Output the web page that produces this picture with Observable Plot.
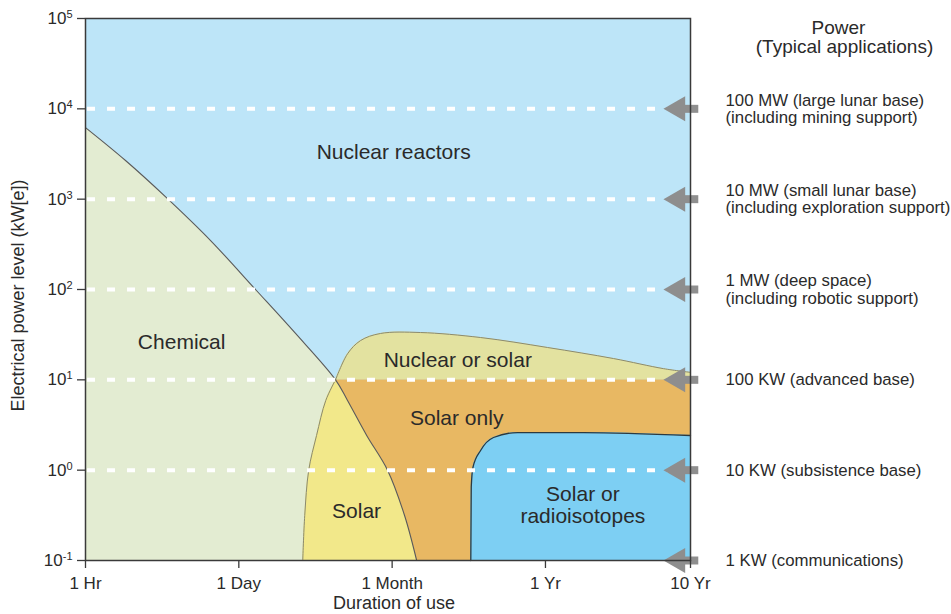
<!DOCTYPE html>
<html><head><meta charset="utf-8">
<script src="https://cdn.jsdelivr.net/npm/d3@7"></script>
<script src="https://cdn.jsdelivr.net/npm/@observablehq/plot@0.6"></script>
<style>body{margin:0;background:#fff;font-family:"Liberation Sans",Arial,sans-serif}</style>
</head><body><div id="chart"></div>
<script>
// Axis ticks (x is an evenly spaced duration index)
const durationTicks = [0, 1, 2, 3, 3.946];
const durationLabels = ["1 Hr", "1 Day", "1 Month", "1 Yr", "10 Yr"];
const powerTicks = [0.1, 1, 10, 100, 1000, 10000, 100000];
const gridLevels = [10000, 1000, 100, 10, 1];
const arrowLevels = [10000, 1000, 100, 10, 1, 0.1];
const appLabels = [
  "100 MW (large lunar base)\n(including mining support)",
  "10 MW (small lunar base)\n(including exploration support)",
  "1 MW (deep space)\n(including robotic support)",
  "100 KW (advanced base)",
  "10 KW (subsistence base)",
  "1 KW (communications)"
];

// Chemical / nuclear boundary (continues as solar / solar-only boundary)
const chemX = [0, 0.261, 0.528, 0.816, 1.109, 1.370, 1.631, 1.709, 1.834, 1.970, 2.081, 2.160];
const chemY = [6200, 2680, 1040, 348, 100, 32.6, 10, 5.9, 2.42, 1.0, 0.315, 0.1];

// Solar lens: left boundary at given power levels, right boundary = chemical curve
const solarY = [10, 5.9, 2.42, 1.0, 0.315, 0.1];
const solarLeftX = [1.631, 1.567, 1.507, 1.456, 1.430, 1.417];
const solarRightX = [1.631, 1.709, 1.834, 1.970, 2.081, 2.160];

// Nuclear-or-solar top boundary
const nosX = [1.631, 1.709, 1.794, 1.924, 2.185, 2.577, 3.014, 3.444, 3.770, 3.946];
const nosY = [10, 19.4, 27.2, 32.6, 33.4, 29.4, 22.8, 17.2, 13.3, 12.1];

// Solar-or-radioisotopes boundary
const radX = [2.513, 2.516, 2.527, 2.577, 2.661, 2.818, 3.249, 3.946];
const radY = [0.1, 0.65, 1.07, 1.65, 2.30, 2.61, 2.61, 2.42];

// Region labels
const regionNames = ["Nuclear reactors", "Chemical", "Nuclear or solar", "Solar only", "Solar", "Solar or\nradioisotopes"];
const regionX = [2.010, 0.627, 2.428, 2.421, 1.768, 3.244];
const regionY = [3370, 26.5, 16.4, 3.83, 0.357, 0.417];

const arrowTipX = 3.864, shaftX1 = 3.90, shaftX2 = 4.0;

const zip = (xs, ys) => xs.map((x, i) => ({x, y: ys[i]}));
const chem = zip(chemX, chemY);
const solar = solarY.map((y, i) => ({y, x1: solarLeftX[i], x2: solarRightX[i]}));
const nos = zip(nosX, nosY);
const rad = zip(radX, radY);
const regions = regionNames.map((t, i) => ({t, x: regionX[i], y: regionY[i]}));
const apps = arrowLevels.map((y, i) => ({y, t: appLabels[i]}));

const C = {
  nuclear: "#bde5f8", chem: "#e3ecd2", solar: "#f2e88a",
  nos: "#e3e2a0", solarOnly: "#e8b863", rad: "#7dcff3", arrow: "#8e8e8e", ink: "#2a2a2a"
};

const svg = Plot.plot({
  width: 951, height: 614,
  marginLeft: 85, marginRight: 261, marginTop: 18, marginBottom: 54,
  style: {fontFamily: '"Liberation Sans", Arial, sans-serif', background: "#fff", color: C.ink},
  x: {type: "linear", domain: [0, 3.946], axis: null},
  y: {type: "log", domain: [0.1, 100000], axis: null},
  marks: [
    Plot.frame({fill: C.nuclear, stroke: null}),
    Plot.areaY(nos, {x: "x", y1: 0.1, y2: 10, fill: C.solarOnly}),
    Plot.areaY(nos, {x: "x", y1: 10, y2: "y", fill: C.nos, curve: "catmull-rom"}),
    Plot.areaY(chem, {x: "x", y1: 0.1, y2: "y", fill: C.chem, curve: "catmull-rom"}),
    Plot.areaX(solar, {y: "y", x1: "x1", x2: "x2", fill: C.solar, curve: "catmull-rom"}),
    Plot.areaY(rad, {x: "x", y1: 0.1, y2: "y", fill: C.rad, curve: "monotone-x"}),
    Plot.line(chem, {x: "x", y: "y", stroke: "#5a5a5a", strokeWidth: 1.1, curve: "catmull-rom"}),
    Plot.line(solar, {x: "x1", y: "y", stroke: "#8a8a70", strokeWidth: 1, curve: "catmull-rom"}),
    Plot.line(nos, {x: "x", y: "y", stroke: "#8a8a70", strokeWidth: 1, curve: "catmull-rom"}),
    Plot.line(rad, {x: "x", y: "y", stroke: "#2c3a40", strokeWidth: 1.3, curve: "monotone-x"}),
    Plot.ruleY(gridLevels, {x1: 0, x2: 3.85, stroke: "#fff", strokeWidth: 4, strokeDasharray: "8 12", strokeDashoffset: -2}),
    Plot.text(regions, {x: "x", y: "y", text: "t", fontSize: 21, fill: C.ink, lineHeight: 1.05}),
    Plot.ruleY(arrowLevels, {x1: shaftX1, x2: shaftX2, stroke: C.arrow, strokeWidth: 8}),
    Plot.dot(arrowLevels, {x: arrowTipX, y: d => d, symbol: "triangle", r: 9.3, rotate: -90, fill: C.arrow, stroke: null}),
    Plot.frame({stroke: "#3a3a3a", strokeWidth: 1.5}),
    Plot.axisX({ticks: durationTicks, tickFormat: d => durationLabels[durationTicks.indexOf(d)], tickSize: 8, tickPadding: 8, fontSize: 17, label: null, stroke: "#3a3a3a", strokeWidth: 1.3}),
    Plot.axisY({ticks: powerTicks, tickFormat: d => "10^" + Math.round(Math.log10(d)), tickSize: 8, tickPadding: 5, fontSize: 17, label: null, stroke: "#3a3a3a", strokeWidth: 1.3}),
    Plot.text(["Duration of use"], {frameAnchor: "bottom", dx: 6, dy: 43, fontSize: 18, textAnchor: "middle", lineAnchor: "middle", fill: C.ink}),
    Plot.text(["Electrical power level (kW[e])"], {frameAnchor: "left", dx: -67, dy: 6, rotate: -90, fontSize: 18, textAnchor: "middle", lineAnchor: "middle", fill: C.ink}),
    Plot.text(apps, {y: "y", text: "t", frameAnchor: "right", dx: 35, textAnchor: "start", lineAnchor: "middle", fontSize: 16.8, lineHeight: 1.02, fill: C.ink}),
    Plot.text(["Power"], {frameAnchor: "top-right", dx: 148, dy: 9, fontSize: 19, textAnchor: "middle", lineAnchor: "middle", fill: C.ink}),
    Plot.text(["(Typical applications)"], {frameAnchor: "top-right", dx: 154, dy: 28, fontSize: 19, textAnchor: "middle", lineAnchor: "middle", fill: C.ink})
  ]
});

svg.querySelectorAll('g[aria-label="y-axis tick label"] text').forEach(t => {
  const parts = t.textContent.split("^");
  t.textContent = parts[0];
  const ts = document.createElementNS("http://www.w3.org/2000/svg", "tspan");
  ts.setAttribute("dy", "-6");
  ts.setAttribute("font-size", "11");
  ts.textContent = parts[1];
  t.appendChild(ts);
});

document.getElementById("chart").appendChild(svg);
</script>
</body></html>
